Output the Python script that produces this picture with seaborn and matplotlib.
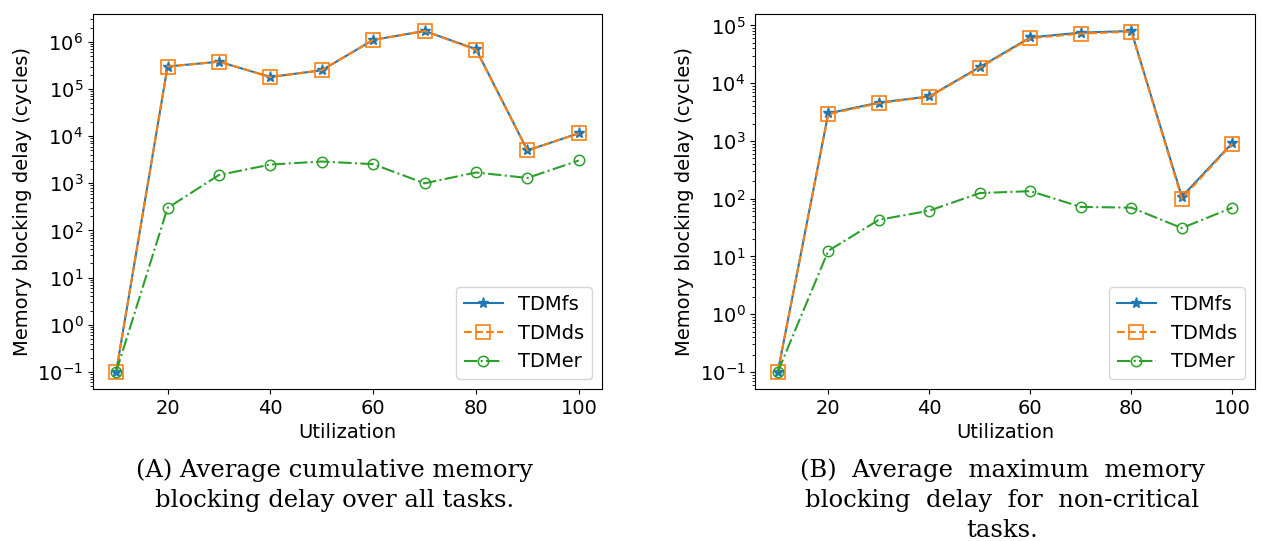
import matplotlib
matplotlib.use('Agg')
import matplotlib.pyplot as plt
import seaborn as sns
import pandas as pd

# utilisation (%)
util = [10, 20, 30, 40, 50, 60, 70, 80, 90, 100]

# (A) average cumulative memory blocking delay
cum_fs = [0.1, 3.0e5, 3.8e5, 1.8e5, 2.5e5, 1.1e6, 1.7e6, 7.0e5, 5.0e3, 1.15e4]
cum_ds = [0.1, 3.0e5, 3.8e5, 1.8e5, 2.5e5, 1.1e6, 1.7e6, 6.8e5, 5.0e3, 1.15e4]
cum_er = [0.1, 300, 1500, 2500, 2900, 2550, 1000, 1700, 1300, 3050]

# (B) average maximum memory blocking delay, non-critical tasks
max_fs = [0.1, 3000, 4600, 5900, 1.9e4, 6.2e4, 7.5e4, 8.0e4, 108, 920]
max_ds = [0.1, 2900, 4500, 5800, 1.85e4, 6.0e4, 7.2e4, 7.8e4, 100, 900]
max_er = [0.1, 12.5, 43, 62, 125, 135, 72, 70, 31, 70]

names = ['TDMfs', 'TDMds', 'TDMer']
styles = {
    'TDMfs': dict(color='tab:blue', linestyle='-', marker='*', markersize=8,
                  markeredgecolor='tab:blue', markeredgewidth=1),
    'TDMds': dict(color='tab:orange', linestyle='--', marker='s', markersize=10,
                  fillstyle='none', markeredgecolor='tab:orange',
                  markeredgewidth=1.2),
    'TDMer': dict(color='tab:green', linestyle='-.', marker='o', markersize=7.5,
                  fillstyle='none', markeredgecolor='tab:green',
                  markeredgewidth=1.1),
}

fig = plt.figure(figsize=(12.62, 5.41), dpi=100)
ax1 = fig.add_axes([0.0737, 0.2810, 0.4033, 0.6932])
ax2 = fig.add_axes([0.5983, 0.2810, 0.3962, 0.6932])

panels = [(ax1, [cum_fs, cum_ds, cum_er]), (ax2, [max_fs, max_ds, max_er])]
for ax, series in panels:
    for name, vals in zip(names, series):
        df = pd.DataFrame({'Utilization': util, 'delay': vals})
        sns.lineplot(data=df, x='Utilization', y='delay', ax=ax, label=name,
                     **styles[name])
    ax.set_yscale('log')
    ax.set_xticks([20, 40, 60, 80, 100])
    ax.set_xlabel('Utilization', fontsize=14)
    ax.set_ylabel('Memory blocking delay (cycles)', fontsize=14)
    ax.tick_params(labelsize=14)
    ax.legend(loc='lower right', fontsize=14)

serif = ['DejaVu Serif']
fig.text(0.265, 0.103, '(A) Average cumulative memory\nblocking delay over all tasks.',
         ha='center', va='center', fontsize=17.5, family=serif, linespacing=1.4)
fig.text(0.794, 0.075,
         '(B)  Average  maximum  memory\nblocking  delay  for  non-critical\ntasks.',
         ha='center', va='center', fontsize=17.5, family=serif, linespacing=1.4)

fig.savefig('out.png', dpi=100)
